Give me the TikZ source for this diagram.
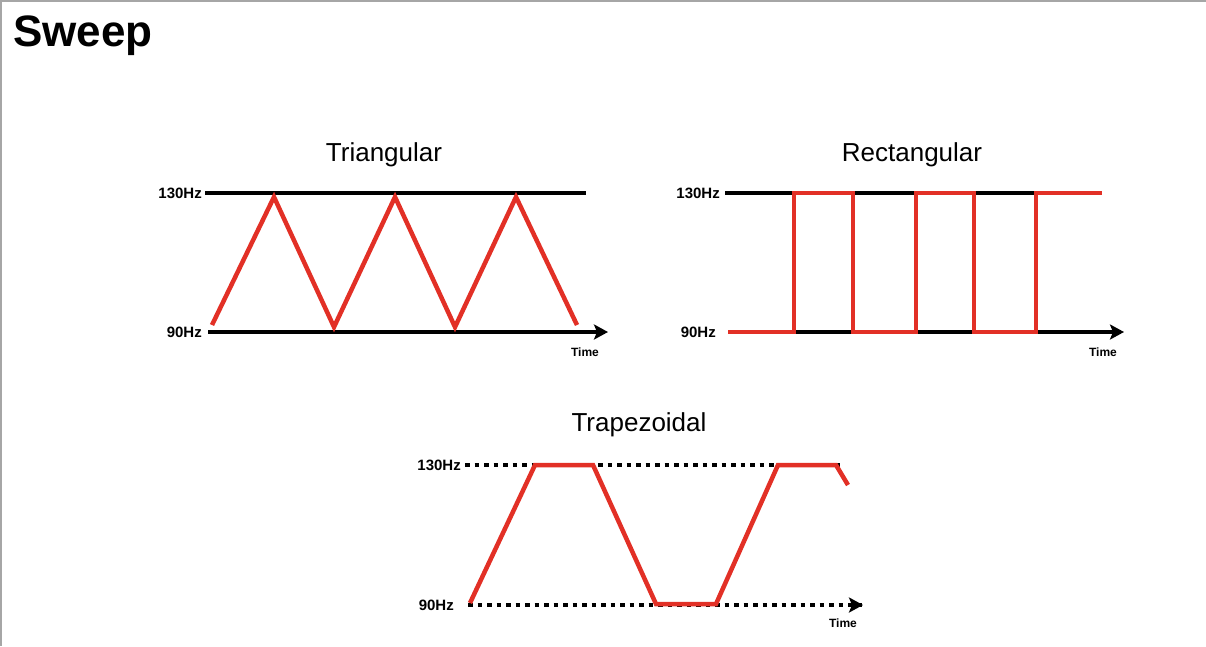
\documentclass[tikz,border=0pt]{standalone}
\usepackage{fontspec}
\setmainfont{Liberation Sans}
\usetikzlibrary{arrows.meta}
\definecolor{wred}{RGB}{226,48,38}
\begin{document}
\begin{tikzpicture}[x=1pt,y=-1pt,
  axis/.style={line width=4.5pt},
  dotax/.style={line width=4.5pt,dash pattern=on 4.5pt off 5pt},
  arr/.style={-{Stealth[length=14pt,width=15pt,inset=3pt]}},
  wave/.style={wred,line width=4.5pt,line join=miter},
  hz/.style={font=\fontsize{15}{15}\selectfont\bfseries,anchor=east,inner sep=0pt},
  tm/.style={font=\fontsize{12}{12}\selectfont\bfseries,inner sep=0pt},
  ttl/.style={font=\fontsize{26}{26}\selectfont,inner sep=0pt}]
\useasboundingbox (0,0) rectangle (1206,646);
\draw[gray!70,line width=1.5pt] (1,646) -- (1,1) -- (1206,1);
\node[anchor=west,inner sep=0pt,font=\fontsize{44}{44}\selectfont\bfseries] (sw) at (13,36) {Sweep};
% Triangular
\node[ttl] (t1) at (384,155) {Triangular};
\coordinate (a1) at (205,193); \coordinate (a2) at (586,193);
\coordinate (b1) at (208,332); \coordinate (b2) at (608,332);
\draw[axis] (a1) -- (a2);
\draw[axis,arr] (b1) -- (b2);
\node[hz] (h1) at (202,193) {130Hz};
\node[hz] (l1) at (202,332) {90Hz};
\node[tm] (tm1) at (585,352) {Time};
\draw[wave] (212,325) -- (274,197) -- (334,327) -- (395,197) -- (455,327) -- (516,197) -- (577,325);
% Rectangular
\node[ttl] (t2) at (912,155) {Rectangular};
\coordinate (c1) at (725,193); \coordinate (c2) at (1100,193);
\coordinate (d1) at (728,332); \coordinate (d2) at (1124,332);
\draw[axis] (c1) -- (c2);
\draw[axis,arr] (d1) -- (d2);
\node[hz] (h2) at (720,193) {130Hz};
\node[hz] (l2) at (716,332) {90Hz};
\node[tm] (tm2) at (1103,352) {Time};
\draw[wave] (728,332) -- (794,332) -- (794,193) -- (853,193) -- (853,332) -- (916,332) -- (916,193) -- (974,193) -- (974,332) -- (1036,332) -- (1036,193) -- (1102,193);
% Trapezoidal
\node[ttl] (t3) at (639,425) {Trapezoidal};
\coordinate (e1) at (465,465); \coordinate (e2) at (845,465);
\coordinate (f1) at (468,605); \coordinate (f2) at (863,605);
\draw[dotax] (e1) -- (e2);
\draw[dotax] (f1) -- (f2);
\draw[axis,arr] (850,605) -- (f2);
\node[hz] (h3) at (461,465) {130Hz};
\node[hz] (l3) at (454,605) {90Hz};
\node[tm] (tm3) at (843,623) {Time};
\draw[wave] (470,603) -- (535,465) -- (593,465) -- (656,604) -- (716,604) -- (778,465) -- (836,465) -- (848,485);
\end{tikzpicture}
\end{document}
